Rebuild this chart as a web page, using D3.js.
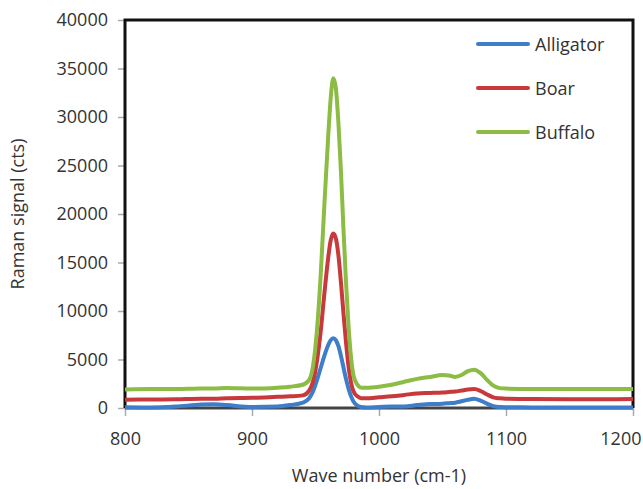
<!DOCTYPE html>
<html>
<head>
<meta charset="utf-8">
<script src="https://cdn.jsdelivr.net/npm/d3@7"></script>
<style>
  body { margin: 0; background: #fff; }
  text { font-family: "Open Sans", sans-serif; fill: #333; }
</style>
</head>
<body>
<script>
// wave numbers (cm-1) where the spectra were read
var waves = [800, 820, 840, 860, 870, 880, 900, 920, 930, 940, 945, 948, 951, 954, 957, 960, 962, 964, 966, 968, 970, 972, 974, 976, 978, 980, 983, 986, 990, 1000, 1010, 1020, 1030, 1040, 1050, 1055, 1060, 1065, 1070, 1075, 1080, 1085, 1090, 1095, 1100, 1120, 1150, 1180, 1200];

var alligator = [80, 60, 150, 350, 380, 300, 100, 150, 300, 550, 1000, 1700, 2800, 4100, 5400, 6500, 7000, 7200, 7000, 6400, 5400, 4200, 3000, 2000, 1200, 650, 250, 100, 50, 100, 150, 150, 300, 400, 450, 500, 550, 700, 850, 950, 750, 450, 200, 100, 80, 60, 50, 50, 50];
var boar = [850, 880, 900, 950, 950, 1000, 1050, 1150, 1200, 1300, 1800, 2700, 4700, 7800, 11800, 15500, 17300, 18000, 17500, 15800, 13000, 9800, 6800, 4300, 2600, 1700, 1200, 1000, 1000, 1100, 1200, 1350, 1500, 1550, 1600, 1650, 1700, 1800, 1900, 1950, 1750, 1400, 1100, 1000, 950, 920, 900, 900, 920];
var buffalo = [1900, 1950, 1950, 2000, 2000, 2050, 2000, 2100, 2200, 2400, 2900, 4300, 7800, 13500, 21000, 28000, 32000, 34000, 33000, 29500, 24500, 18500, 13000, 8500, 5200, 3300, 2400, 2100, 2100, 2200, 2400, 2700, 3000, 3200, 3400, 3350, 3200, 3400, 3800, 3950, 3600, 2900, 2300, 2050, 2000, 1950, 1950, 1950, 1950];

var seriesNames = ["Alligator", "Boar", "Buffalo"];
var seriesColors = ["#3d7dca", "#c8393b", "#8cbc44"];
var xTicks = [800, 900, 1000, 1100, 1200];
var yTicks = [0, 5000, 10000, 15000, 20000, 25000, 30000, 35000, 40000];

var width = 643, height = 489;
var margin = {left: 125, right: 10, top: 20, bottom: 81};
var fontSize = "18px";

var svg = d3.select("body").append("svg")
  .attr("width", width)
  .attr("height", height);

var x = d3.scaleLinear().domain([800, 1200]).range([margin.left, width - margin.right]);
var y = d3.scaleLinear().domain([0, 40000]).range([height - margin.bottom, margin.top]);

// y axis ticks and labels
var yAxis = svg.append("g")
  .attr("transform", "translate(" + margin.left + ",0)")
  .call(d3.axisLeft(y).tickValues(yTicks).tickSize(7).tickPadding(10).tickFormat(d3.format("d")));
yAxis.select(".domain").remove();
yAxis.selectAll("line").attr("stroke", "#aaa").attr("stroke-width", 1.5);
yAxis.selectAll("text").style("font-size", fontSize).style("font-family", "Open Sans, sans-serif").attr("fill", "#333");

// x axis ticks and labels
var xAxis = svg.append("g")
  .attr("transform", "translate(0," + y(0) + ")")
  .call(d3.axisBottom(x).tickValues(xTicks).tickSize(8).tickPadding(16).tickFormat(d3.format("d")));
xAxis.select(".domain").remove();
xAxis.selectAll("line").attr("stroke", "#aaa").attr("stroke-width", 1.5);
xAxis.selectAll("text").style("font-size", fontSize).style("font-family", "Open Sans, sans-serif").attr("fill", "#333");
// the last label sits against the right edge
xAxis.selectAll("text").filter(function(d) { return d === 1200; })
  .attr("text-anchor", "end")
  .attr("x", width - 2 - x(1200));

// frame
svg.append("line")
  .attr("x1", x(800)).attr("x2", x(1200))
  .attr("y1", y(0)).attr("y2", y(0))
  .attr("stroke", "#444").attr("stroke-width", 3);
svg.append("path")
  .attr("d", "M" + x(800) + "," + y(0) + "V" + y(40000) + "H" + x(1200) + "V" + y(0))
  .attr("fill", "none")
  .attr("stroke", "#111")
  .attr("stroke-width", 3);

var line = d3.line()
  .x(function(d) { return x(d[0]); })
  .y(function(d) { return y(d[1]); })
  .curve(d3.curveMonotoneX);

var allSeries = [alligator, boar, buffalo];
allSeries.forEach(function(vals, i) {
  svg.append("path")
    .datum(waves.map(function(w, j) { return [w, vals[j]]; }))
    .attr("d", line)
    .attr("fill", "none")
    .attr("stroke", seriesColors[i])
    .attr("stroke-width", 4)
    .attr("stroke-linejoin", "round");
});

// legend
var legend = svg.append("g").attr("transform", "translate(478,44)");
seriesNames.forEach(function(name, i) {
  legend.append("line")
    .attr("x1", 0).attr("x2", 50)
    .attr("y1", i * 44).attr("y2", i * 44)
    .attr("stroke", seriesColors[i])
    .attr("stroke-width", 4)
    .attr("stroke-linecap", "round");
  legend.append("text")
    .attr("x", 57).attr("y", i * 44 + 6.5)
    .style("font-size", fontSize)
    .text(name);
});

// axis titles
svg.append("text")
  .attr("x", 379).attr("y", 482)
  .attr("text-anchor", "middle")
  .style("font-size", fontSize)
  .text("Wave number (cm-1)");
svg.append("text")
  .attr("transform", "translate(24,214) rotate(-90)")
  .attr("text-anchor", "middle")
  .style("font-size", fontSize)
  .text("Raman signal (cts)");
</script>
</body>
</html>
